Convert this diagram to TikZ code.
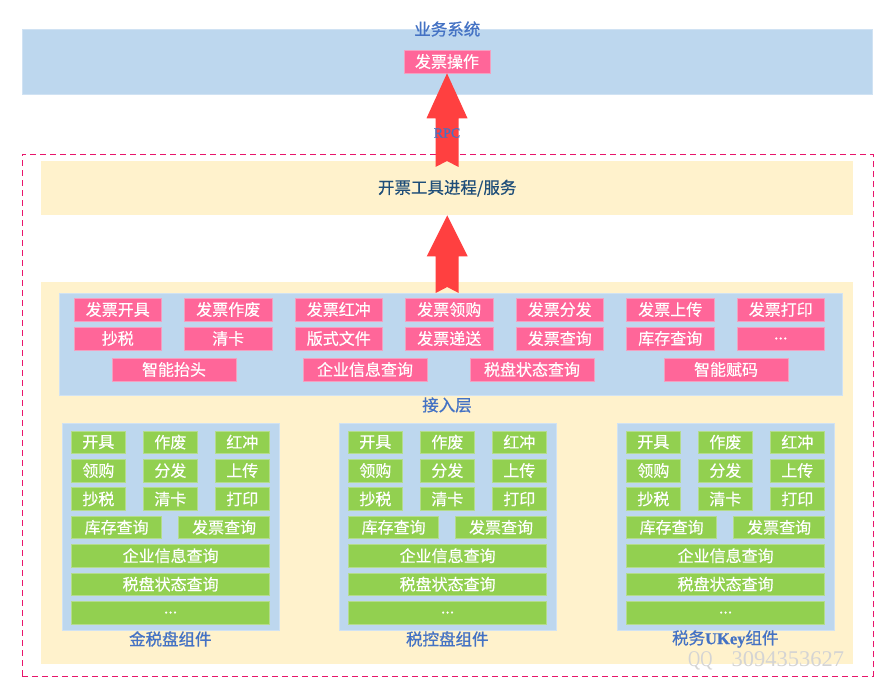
\documentclass[tikz,border=0pt]{standalone}
\usepackage{fontspec}
\setmainfont{Noto Sans CJK SC}
\newfontfamily\cjkm{Noto Sans CJK SC}[FakeBold=0.4]
\newfontfamily\cjkb{Noto Sans CJK SC}[FakeBold=0.9]
\newfontfamily\serifen{Liberation Serif}
\newfontfamily\serifb{Liberation Serif}[FakeBold=0.7]
\usetikzlibrary{calc}
\definecolor{bandblue}{HTML}{BDD7EE}
\definecolor{bandline}{HTML}{D0E2F3}
\definecolor{yel}{HTML}{FFF2CC}
\definecolor{pinkc}{HTML}{FF6699}
\definecolor{pinkline}{HTML}{F4A0C0}
\definecolor{greenc}{HTML}{92D050}
\definecolor{greenline}{HTML}{B4DC8C}
\definecolor{titleblue}{HTML}{4472C4}
\definecolor{darkblue}{HTML}{1F4E79}
\definecolor{arrowc}{HTML}{FF4040}
\definecolor{dashc}{HTML}{E8156B}
\definecolor{wmark}{HTML}{D4D4D4}
\newcommand\fs{\cjkm\fontsize{16}{18}\selectfont}
\newcommand\ft{\cjkb\fontsize{16.5}{19}\selectfont}
\newcommand\myellip{...}
\begin{document}
\begin{tikzpicture}[x=1pt,y=-1pt,
  panel/.style={inner sep=0pt, anchor=north west},
  blueband/.style={panel, fill=bandblue, draw=bandline, line width=0.6pt},
  yelband/.style={panel, fill=yel},
  pinkbox/.style={fill=pinkc, draw=pinkline, line width=0.6pt, text=white, minimum height=23pt, inner sep=0pt, font=\fs},
  greenbox/.style={fill=greenc, draw=greenline, line width=0.6pt, text=white, minimum height=22.7pt, inner sep=0pt, font=\fs, anchor=north west},
  title/.style={text=titleblue, font=\ft, inner sep=0pt},
]
\useasboundingbox (0,0) rectangle (894,700);
\fill[white] (0,0) rectangle (894,700);

% business system band
\node[blueband, minimum width=850pt, minimum height=65pt] (band) at (22,29) {};
\node[title] (t1) at (band.north) {业务系统};
\node[pinkbox, minimum width=86pt] (op) at (447,61.5) {发票操作};

% dashed frame
\node[panel, draw=dashc, dash pattern=on 6pt off 4pt, line width=0.9pt, minimum width=851pt, minimum height=522pt] (frame) at (21.5,154) {};

% process box
\node[yelband, minimum width=812pt, minimum height=54pt] (proc) at (41,161) {};
\node[text=darkblue, font=\cjkm\fontsize{16.5}{19}\selectfont, inner sep=0pt] (proct) at (proc.center) {开票工具进程/服务};

% big yellow box
\node[yelband, minimum width=812pt, minimum height=382pt] (big) at (41,282) {};

% access layer
\node[blueband, minimum width=783pt, minimum height=102pt] (acc) at (59,293) {};
\node[title] (acct) at (447,405) {接入层};

% arrows
\fill[arrowc] let \p1=(op.south), \p2=($(proc.north)+(0,6)$) in
  (\p1) -- (\x1+20.5pt,\y1-45pt) -- (\x1+11.5pt,\y1-45pt) -- (\x1+11.5pt,\y2)
  -- (\x1,\y2+6pt) -- (\x1-11.5pt,\y2) -- (\x1-11.5pt,\y1-45pt) -- (\x1-20.5pt,\y1-45pt) -- cycle;
\node[text=titleblue, font=\serifb\fontsize{14}{16}\selectfont, inner sep=0pt] (rpc) at (447,133) {RPC};
\fill[arrowc] let \p1=(proc.south), \p2=(acc.north) in
  (\x1,\y1) -- (\x1+20.5pt,\y1-41pt) -- (\x1+11.5pt,\y1-41pt) -- (\x1+11.5pt,\y2)
  -- (\x1,\y2+6pt) -- (\x1-11.5pt,\y2) -- (\x1-11.5pt,\y1-41pt) -- (\x1-20.5pt,\y1-41pt) -- cycle;

% pink interface boxes
\foreach \t [count=\i from 0] in {发票开具,发票作废,发票红冲,发票领购,发票分发,发票上传,发票打印}
  \node[pinkbox, minimum width=87.5pt] (pa\i) at (117.75+110.5*\i,309.5) {\t};
\foreach \t [count=\i from 0] in {抄税,清卡,版式文件,发票递送,发票查询,库存查询,\myellip}
  \node[pinkbox, minimum width=87.5pt] (pb\i) at (117.75+110.5*\i,338.5) {\t};
\foreach \t/\cx [count=\i from 0] in {智能抬头/174,企业信息查询/365,税盘状态查询/532,智能赋码/726}
  \node[pinkbox, minimum width=124pt] (pc\i) at (\cx,369.5) {\t};

% components
\foreach \ox/\nm/\lab in {71.3/a/金税盘组件, 348.3/b/税控盘组件, 626.3/c/{税务{\serifb\bfseries UKey}组件}} {
  \node[blueband, minimum width=217pt, minimum height=207.3pt] (cb\nm) at (\ox-9.6,422.7) {};
  \foreach \t [count=\j from 0] in {开具,作废,红冲}
    \node[greenbox, minimum width=53.5pt] (g\nm r1c\j) at (\ox+72*\j,430.5) {\t};
  \foreach \t [count=\j from 0] in {领购,分发,上传}
    \node[greenbox, minimum width=53.5pt] (g\nm r2c\j) at (\ox+72*\j,458.9) {\t};
  \foreach \t [count=\j from 0] in {抄税,清卡,打印}
    \node[greenbox, minimum width=53.5pt] (g\nm r3c\j) at (\ox+72*\j,487.3) {\t};
  \node[greenbox, minimum width=90pt] (g\nm r4c0) at (\ox,515.7) {库存查询};
  \node[greenbox, minimum width=91pt] (g\nm r4c1) at (\ox+107,515.7) {发票查询};
  \node[greenbox, minimum width=198pt] (g\nm r5) at (\ox,544.1) {企业信息查询};
  \node[greenbox, minimum width=198pt] (g\nm r6) at (\ox,572.5) {税盘状态查询};
  \node[greenbox, minimum width=198pt] (g\nm r7) at (\ox,600.9) {\myellip};
  \node[title] (cl\nm) at (\ox+99,639) {\lab};
}

% watermark
\node[text=wmark, font=\serifen\fontsize{22.5}{24}\selectfont, inner sep=0pt, anchor=west] (wm) at (688,661) {\scalebox{0.75}[1]{QQ}\hspace{19pt}3094353627};
\end{tikzpicture}
\end{document}
